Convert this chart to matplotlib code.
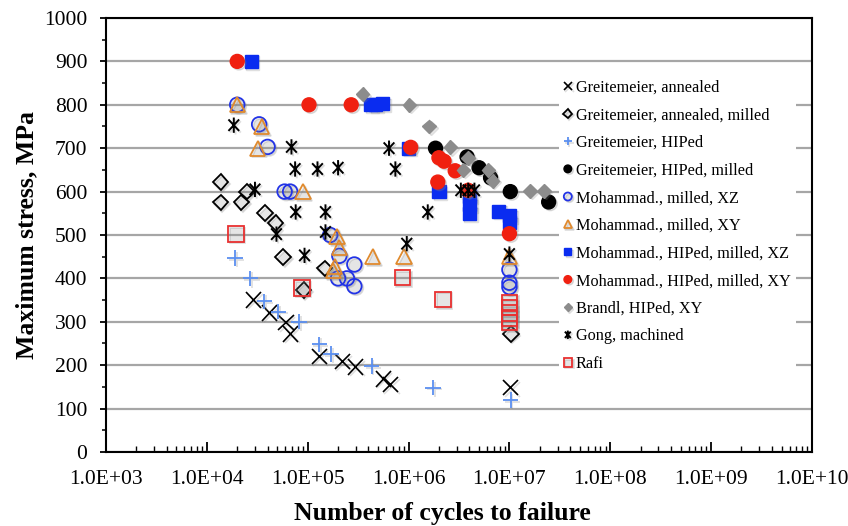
import matplotlib
matplotlib.use("Agg")
import matplotlib.pyplot as plt
import matplotlib.patheffects as pe
from matplotlib.path import Path
from matplotlib.ticker import FuncFormatter, MultipleLocator, FixedLocator, NullFormatter

plt.rcParams['font.family'] = ['Liberation Serif', 'DejaVu Serif']

# cycles to failure / max stress (MPa)
grei_ann_n = [2.9e4, 4.2e4, 6.1e4, 6.8e4, 1.3e5, 2.2e5, 3.0e5, 5.6e5, 6.6e5, 1.03e7]
grei_ann_s = [350, 320, 298, 272, 220, 208, 196, 168, 155, 148]

grei_annm_n = [1.37e4, 1.37e4, 2.2e4, 2.5e4, 3.8e4, 4.8e4, 5.7e4, 9.1e4, 1.47e5, 1.03e7]
grei_annm_s = [622, 575, 575, 600, 550, 527, 449, 373, 423, 272]

grei_hip_n = [1.9e4, 2.7e4, 3.7e4, 5.1e4, 8.2e4, 1.3e5, 1.7e5, 4.3e5, 1.75e6, 1.03e7]
grei_hip_s = [447, 400, 347, 323, 300, 248, 226, 198, 148, 120]

grei_hipm_n = [1.85e6, 3.8e6, 5.0e6, 6.5e6, 1.02e7, 2.45e7]
grei_hipm_s = [700, 680, 655, 632, 600, 576]

moh_xz_n = [2.0e4, 3.3e4, 4.0e4, 5.9e4, 6.7e4, 1.67e5, 2.06e5, 2.9e5, 2.0e5, 2.45e5, 2.9e5, 1.0e7, 1.0e7, 1.0e7]
moh_xz_s = [800, 755, 703, 600, 600, 500, 452, 432, 400, 400, 382, 420, 390, 380]

moh_xy_n = [2.0e4, 3.5e4, 3.2e4, 9.0e4, 1.95e5, 2.05e5, 1.85e5, 1.8e5, 4.4e5, 9.0e5, 1.0e7]
moh_xy_s = [800, 750, 700, 600, 497, 472, 428, 418, 450, 450, 450]

moh_hxz_n = [2.75e4, 4.2e5, 4.7e5, 5.5e5, 1.0e6, 2.0e6, 4.0e6, 4.0e6, 4.0e6, 7.8e6, 1.0e7, 1.0e7]
moh_hxz_s = [900, 800, 800, 803, 700, 600, 590, 570, 550, 555, 545, 528]

moh_hxy_n = [2.0e4, 1.03e5, 2.7e5, 1.05e6, 2.0e6, 2.25e6, 2.9e6, 1.95e6, 3.9e6, 1.0e7]
moh_hxy_s = [900, 800, 800, 702, 678, 670, 648, 622, 603, 503]

brandl_n = [3.5e5, 1.02e6, 1.6e6, 2.6e6, 3.5e6, 3.9e6, 6.2e6, 6.8e6, 1.6e7, 2.2e7]
brandl_s = [825, 800, 750, 702, 650, 678, 650, 625, 602, 602]

gong_n = [1.85e4, 3.0e4, 4.9e4, 6.9e4, 7.5e4, 7.6e4, 9.3e4, 1.25e5, 1.5e5, 1.5e5,
          2.0e5, 6.4e5, 7.4e5, 9.6e5, 1.55e6, 3.3e6, 3.9e6, 4.5e6, 1.0e7]
gong_s = [753, 605, 502, 703, 652, 553, 453, 652, 553, 507,
          655, 700, 652, 480, 553, 603, 603, 603, 456]

rafi_n = [1.95e4, 8.8e4, 8.7e5, 2.2e6, 1.0e7, 1.0e7, 1.0e7, 1.0e7, 1.0e7]
rafi_s = [502, 378, 402, 352, 345, 333, 320, 308, 298]

decades = [10.0 ** k for k in range(3, 11)]

fig = plt.figure(figsize=(8.48, 5.26), dpi=100)
ax = fig.add_axes([0.125, 0.1407, 0.8325, 0.8251])

shadow = [pe.SimpleLineShadow(offset=(1.2, -1.2), shadow_color='gray', alpha=0.25),
          pe.SimplePatchShadow(offset=(1.2, -1.2), shadow_rgbFace='gray', alpha=0.2),
          pe.Normal()]

# asterisk like the Gong marker: vertical bar plus a steep X
star = Path([(0, -1), (0, 1), (-0.7, -0.75), (0.7, 0.75), (-0.7, 0.75), (0.7, -0.75)],
            [Path.MOVETO, Path.LINETO, Path.MOVETO, Path.LINETO, Path.MOVETO, Path.LINETO])

ms = 10
# each series: x, y, label, marker style
series = [
    (grei_ann_n, grei_ann_s, 'Greitemeier, annealed',
     dict(marker='x', color='black', mew=1.2, ms=ms + 1)),
    (grei_annm_n, grei_annm_s, 'Greitemeier, annealed, milled',
     dict(marker='D', mfc='none', mec='black', mew=1.3, ms=ms - 2)),
    (grei_hip_n, grei_hip_s, 'Greitemeier, HIPed',
     dict(marker='+', color='#5b8ff0', mew=1.3, ms=ms + 1)),
    (grei_hipm_n, grei_hipm_s, 'Greitemeier, HIPed, milled',
     dict(marker='o', mfc='black', mec='black', ms=ms)),
    (moh_xz_n, moh_xz_s, 'Mohammad., milled, XZ',
     dict(marker='o', mfc='none', mec='#2233e6', mew=1.3, ms=ms + 0.5)),
    (moh_xy_n, moh_xy_s, 'Mohammad., milled, XY',
     dict(marker='^', mfc='none', mec='#e08a2e', mew=1.3, ms=ms + 1)),
    (moh_hxz_n, moh_hxz_s, 'Mohammad., HIPed, milled, XZ',
     dict(marker='s', mfc='#0a2cf0', mec='#0a2cf0', ms=ms - 0.5)),
    (moh_hxy_n, moh_hxy_s, 'Mohammad., HIPed, milled, XY',
     dict(marker='o', mfc='#f02010', mec='#f02010', ms=ms)),
    (brandl_n, brandl_s, 'Brandl, HIPed, XY',
     dict(marker='D', mfc='#8c8c8c', mec='#8c8c8c', ms=ms - 3)),
    (gong_n, gong_s, 'Gong, machined',
     dict(marker=star, mfc='none', mec='black', mew=1.4, ms=ms + 1)),
    (rafi_n, rafi_s, 'Rafi',
     dict(marker='s', mfc='none', mec='#e83030', mew=1.3, ms=ms + 1)),
]

for xs, ys, lab, st in series:
    ax.plot(xs, ys, linestyle='none', label=lab, path_effects=shadow, **st)

ax.set_xscale('log')
ax.set_xlim(1e3, 1e10)
ax.set_ylim(0, 1000)

ax.yaxis.set_major_locator(MultipleLocator(100))
ax.yaxis.set_minor_locator(MultipleLocator(50))
ax.xaxis.set_major_locator(FixedLocator(decades))
ax.xaxis.set_minor_locator(FixedLocator([d * m for d in decades[:-1] for m in range(2, 10)]))
ax.xaxis.set_major_formatter(FuncFormatter(lambda v, p: f"{v:.1E}"))
ax.xaxis.set_minor_formatter(NullFormatter())

ax.grid(axis='y', which='major', color='#a6a6a6', linewidth=1.6)
ax.set_axisbelow(True)

for sp in ax.spines.values():
    sp.set_linewidth(1.5)
    sp.set_zorder(6)
ax.tick_params(axis='y', which='major', direction='out', length=4.5, width=1.3,
               labelsize=15.5, pad=9)
ax.tick_params(axis='y', which='minor', direction='out', length=3, width=1.1)
ax.tick_params(axis='x', which='major', direction='in', length=7, width=1.3,
               labelsize=15.5, pad=13)
ax.tick_params(axis='x', which='minor', direction='in', length=4, width=1.0)

ax.set_xlabel('Number of cycles to failure', fontsize=18.5, fontweight='bold', labelpad=9)
ax.xaxis.label.set_x(0.476)
ax.set_ylabel('Maximum stress, MPa', fontsize=18.5, fontweight='bold', labelpad=4)

leg = ax.legend(loc='upper left', bbox_to_anchor=(0.63, 0.888), fontsize=11.7,
                frameon=True, facecolor='white', edgecolor='none', framealpha=1,
                fancybox=False, markerscale=0.55, handlelength=0.5, handletextpad=0.25,
                labelspacing=0.717, borderpad=0.3)

fig.savefig('out.png', dpi=100)
